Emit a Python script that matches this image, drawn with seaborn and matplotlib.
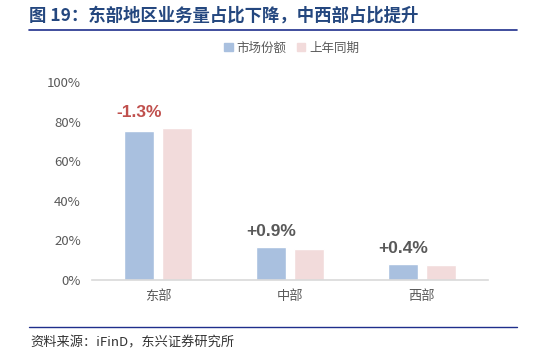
import numpy as np
import pandas as pd
import matplotlib
matplotlib.use("Agg")
import matplotlib.pyplot as plt
from matplotlib.patches import Patch
import seaborn as sns

sns.set_style("white")
plt.rcParams['font.family'] = ['Noto Sans CJK SC', 'DejaVu Sans']

regions = ['东部', '中部', '西部']
share_now = [75.4, 16.6, 8.0]
share_prev = [76.7, 15.7, 7.6]
changes = ['-1.3%', '+0.9%', '+0.4%']
change_colors = ['#C0504D', '#595959', '#595959']
series_names = ['市场份额', '上年同期']
colors = ['#A9C0DF', '#F2DBDB']

df = pd.DataFrame({
    'region': regions * 2,
    'series': [series_names[0]] * 3 + [series_names[1]] * 3,
    'value': share_now + share_prev,
})

fig = plt.figure(figsize=(5.5, 3.55), dpi=100)
ax = fig.add_axes([0.167, 0.211, 0.72, 0.558])

sns.barplot(data=df, x='region', y='value', hue='series',
            palette=colors, saturation=1, width=0.576, gap=0.21,
            order=regions, hue_order=series_names, ax=ax, legend=False)

ax.set_ylim(0, 100)
ax.set_yticks(np.arange(0, 101, 20))
ax.set_yticklabels([f'{v}%' for v in range(0, 101, 20)])
ax.set_xlabel('')
ax.set_ylabel('')
ax.tick_params(axis='both', length=0, colors='#595959', labelsize=9.5)
ax.tick_params(axis='y', pad=8)
ax.tick_params(axis='x', pad=7)
for s in ['top', 'right', 'left']:
    ax.spines[s].set_visible(False)
ax.spines['bottom'].set_color('#D9D9D9')
ax.spines['bottom'].set_linewidth(1.2)

# change labels above each group
for i, (txt, c) in enumerate(zip(changes, change_colors)):
    top = max(share_now[i], share_prev[i])
    ax.text(i - 0.14, top + 4, txt, ha='center', va='bottom',
            fontsize=12.5, fontweight='bold', color=c, family='Liberation Sans')

# legend
handles = [Patch(color=colors[0]), Patch(color=colors[1])]
fig.legend(handles, series_names, loc='center', bbox_to_anchor=(0.53, 0.865),
           ncol=2, frameon=False, fontsize=9, handlelength=0.7, handleheight=0.7,
           columnspacing=0.8, handletextpad=0.3, labelcolor='#595959')

# title and rules
fig.text(0.053, 0.955, '图 19：东部地区业务量占比下降，中西部占比提升',
         fontsize=12.5, fontweight='bold', color='#24477F', va='center')
fig.add_artist(plt.Line2D([0.052, 0.94], [0.915, 0.915], color='#1F2F8C', lw=1.2))
fig.add_artist(plt.Line2D([0.052, 0.94], [0.078, 0.078], color='#1F2F8C', lw=1.0))
fig.text(0.055, 0.035, '资料来源：iFinD，东兴证券研究所', fontsize=9.5,
         color='#333333', va='center', style='italic')

fig.savefig('out.png', dpi=100)
